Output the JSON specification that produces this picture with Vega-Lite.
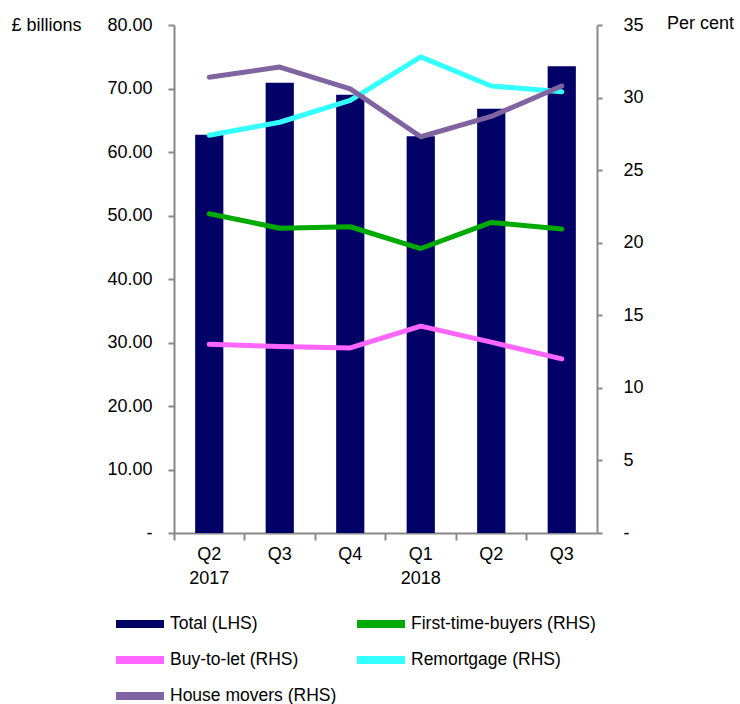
{
  "$schema": "https://vega.github.io/schema/vega-lite/v6.json",
  "width": 423,
  "height": 508,
  "autosize": {"type": "none"},
  "padding": {"left": 174, "top": 25, "right": 143, "bottom": 171},
  "config": {
    "font": "Liberation Sans",
    "view": {"stroke": null},
    "axis": {
      "domainColor": "#888888",
      "tickColor": "#888888",
      "domainWidth": 2,
      "tickWidth": 2,
      "labelFontSize": 18,
      "labelColor": "#000000",
      "titleFontSize": 18,
      "titleFontWeight": "normal",
      "titleColor": "#000000",
      "grid": false
    }
  },
  "data": {
    "values": [
      {"quarter": "Q2 2017", "series": "Total (LHS)", "value": 62.7},
      {"quarter": "Q3 2017", "series": "Total (LHS)", "value": 70.9},
      {"quarter": "Q4 2017", "series": "Total (LHS)", "value": 69.0},
      {"quarter": "Q1 2018", "series": "Total (LHS)", "value": 62.5},
      {"quarter": "Q2 2018", "series": "Total (LHS)", "value": 66.8},
      {"quarter": "Q3 2018", "series": "Total (LHS)", "value": 73.5},
      {"quarter": "Q2 2017", "series": "First-time-buyers (RHS)", "value": 22.0},
      {"quarter": "Q3 2017", "series": "First-time-buyers (RHS)", "value": 21.0},
      {"quarter": "Q4 2017", "series": "First-time-buyers (RHS)", "value": 21.1},
      {"quarter": "Q1 2018", "series": "First-time-buyers (RHS)", "value": 19.6},
      {"quarter": "Q2 2018", "series": "First-time-buyers (RHS)", "value": 21.4},
      {"quarter": "Q3 2018", "series": "First-time-buyers (RHS)", "value": 20.95},
      {"quarter": "Q2 2017", "series": "Buy-to-let (RHS)", "value": 13.0},
      {"quarter": "Q3 2017", "series": "Buy-to-let (RHS)", "value": 12.85},
      {"quarter": "Q4 2017", "series": "Buy-to-let (RHS)", "value": 12.75},
      {"quarter": "Q1 2018", "series": "Buy-to-let (RHS)", "value": 14.25},
      {"quarter": "Q2 2018", "series": "Buy-to-let (RHS)", "value": 13.15},
      {"quarter": "Q3 2018", "series": "Buy-to-let (RHS)", "value": 12.0},
      {"quarter": "Q2 2017", "series": "Remortgage (RHS)", "value": 27.4},
      {"quarter": "Q3 2017", "series": "Remortgage (RHS)", "value": 28.3},
      {"quarter": "Q4 2017", "series": "Remortgage (RHS)", "value": 29.8},
      {"quarter": "Q1 2018", "series": "Remortgage (RHS)", "value": 32.8},
      {"quarter": "Q2 2018", "series": "Remortgage (RHS)", "value": 30.8},
      {"quarter": "Q3 2018", "series": "Remortgage (RHS)", "value": 30.4},
      {"quarter": "Q2 2017", "series": "House movers (RHS)", "value": 31.4},
      {"quarter": "Q3 2017", "series": "House movers (RHS)", "value": 32.1},
      {"quarter": "Q4 2017", "series": "House movers (RHS)", "value": 30.6},
      {"quarter": "Q1 2018", "series": "House movers (RHS)", "value": 27.3},
      {"quarter": "Q2 2018", "series": "House movers (RHS)", "value": 28.7},
      {"quarter": "Q3 2018", "series": "House movers (RHS)", "value": 30.8}
    ]
  },
  "encoding": {
    "x": {
      "field": "quarter",
      "type": "nominal",
      "sort": null,
      "scale": {"paddingInner": 0, "paddingOuter": 0},
      "axis": {
        "title": null,
        "labelAngle": 0,
        "bandPosition": 0,
        "tickSize": 7,
        "labelPadding": 5,
        "labelLineHeight": 24,
        "labelBaseline": "top",
        "labelExpr": "datum.value == 'Q2 2017' ? ['Q2', '2017'] : datum.value == 'Q1 2018' ? ['Q1', '2018'] : split(datum.value, ' ')[0]"
      }
    },
    "color": {
      "field": "series",
      "type": "nominal",
      "scale": {
        "domain": ["Total (LHS)", "Buy-to-let (RHS)", "House movers (RHS)", "First-time-buyers (RHS)", "Remortgage (RHS)"],
        "range": ["#000066", "#FF66FF", "#8064A2", "#00AA00", "#33FFFF"]
      },
      "legend": {
        "title": null,
        "orient": "none",
        "legendX": -48,
        "legendY": 585,
        "columns": 2,
        "symbolType": "M-2.4,0H2.4",
        "symbolSize": 400,
        "symbolStrokeWidth": 8,
        "labelFontSize": 17.5,
        "labelColor": "#000000",
        "labelOffset": 16,
        "labelLimit": 300,
        "rowPadding": 4,
        "columnPadding": 4
      }
    }
  },
  "layer": [
    {
      "transform": [{"filter": "datum.series == 'Total (LHS)'"}],
      "mark": {"type": "bar", "width": {"band": 0.4}},
      "encoding": {
        "y": {
          "field": "value",
          "type": "quantitative",
          "scale": {"domain": [0, 80]},
          "axis": {
            "orient": "left",
            "values": [0, 10, 20, 30, 40, 50, 60, 70, 80],
            "labelExpr": "datum.value == 0 ? '-' : format(datum.value, '.2f')",
            "tickSize": 6,
            "labelPadding": 16,
            "title": "£ billions",
            "titleAngle": 0,
            "titleX": -128,
            "titleY": 0,
            "titleAlign": "center",
            "titleBaseline": "middle"
          }
        }
      }
    },
    {
      "transform": [{"filter": "datum.series != 'Total (LHS)'"}],
      "mark": {"type": "line", "strokeWidth": 5, "strokeCap": "round", "strokeJoin": "round"},
      "encoding": {
        "y": {
          "field": "value",
          "type": "quantitative",
          "scale": {"domain": [0, 35]},
          "axis": {
            "orient": "right",
            "values": [0, 5, 10, 15, 20, 25, 30, 35],
            "labelExpr": "datum.value == 0 ? '-' : format(datum.value, 'd')",
            "tickSize": 5,
            "labelPadding": 21,
            "title": "Per cent",
            "titleAngle": 0,
            "titleX": 103,
            "titleY": -2,
            "titleAlign": "center",
            "titleBaseline": "middle"
          }
        }
      }
    }
  ],
  "resolve": {"scale": {"y": "independent"}}
}
